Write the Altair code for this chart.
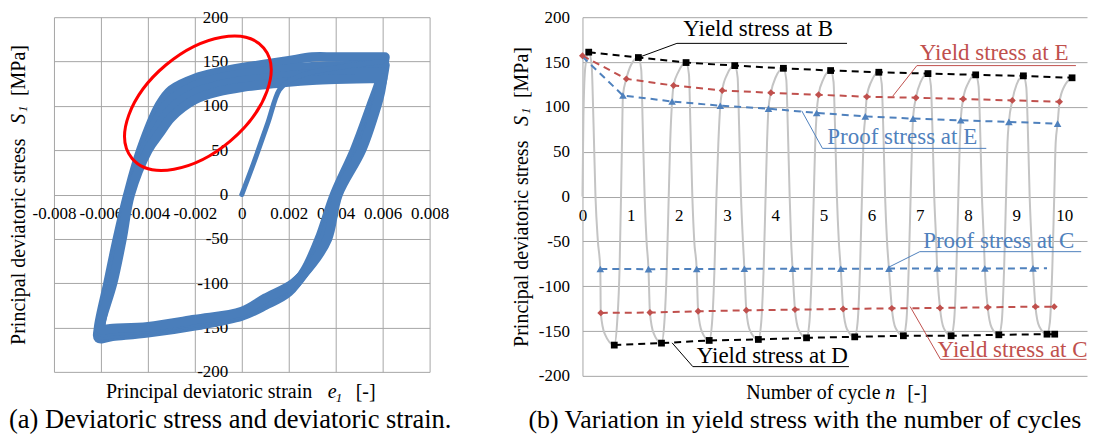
import altair as alt
import pandas as pd

FONT = "Liberation Serif"
BLUE = "#4A7EBB"
RED = "#C0504D"
PBLUE = "#4F81BD"
GRID = "#A6A6A6"

# ---------------- panel (a): hysteresis loops (strain e1, stress S1) ----------------
c1_e = [0.0061, 0.0059, 0.0055, 0.0048, 0.00395, 0.0033, 0.0027, 0.0020, 0.0010, 0.0, -0.0020, -0.0040, -0.0055, -0.0061,
        -0.0061, -0.0057, -0.0053, -0.00485, -0.0043, -0.0035, -0.0030, -0.0020, -0.0010, 0.0, 0.0010, 0.0020, 0.0030, 0.0040, 0.0060, 0.0061]
c1_s = [155, 130, 100, 50, 0, -50, -85, -110, -125, -137, -148, -156, -160, -162,
        -150, -100, -50, 0, 50, 101, 118, 131, 138, 143, 147, 151, 155, 155, 155, 155]
c3_e = [0.0061, 0.00595, 0.0056, 0.0049, 0.0040, 0.0034, 0.0028, 0.0021, 0.0010, 0.0, -0.0020, -0.0040, -0.0055, -0.00605,
        -0.00605, -0.00565, -0.00525, -0.00482, -0.0042, -0.0035, -0.0030, -0.0020, -0.0010, 0.0, 0.0010, 0.0020, 0.0030, 0.0040, 0.0060, 0.0061]
c3_s = [146, 125, 100, 50, 0, -50, -83, -106, -122, -135, -145, -153, -157, -158,
        -148, -100, -50, 0, 50, 90, 107, 123, 131, 136, 139, 142, 144, 145, 146, 146]
c6_e = [0.0060, 0.0059, 0.0057, 0.0050, 0.00405, 0.0035, 0.0029, 0.0021, 0.0010, 0.0, -0.0020, -0.0040, -0.0055, -0.0060,
        -0.0060, -0.0056, -0.0052, -0.00478, -0.0041, -0.0035, -0.0030, -0.0020, -0.0010, 0.0, 0.0010, 0.0020, 0.0030, 0.0040, 0.0060, 0.0060]
c6_s = [138, 120, 100, 50, 0, -50, -80, -103, -120, -134, -143, -151, -154, -155,
        -146, -100, -50, 0, 50, 79, 97, 115, 123, 128, 131, 134, 136, 137, 138, 138]
c10_e = [0.0060, 0.0059, 0.00575, 0.0051, 0.0041, 0.00365, 0.0030, 0.0022, 0.0010, 0.0, -0.0020, -0.0040, -0.0055, -0.0060,
         -0.0060, -0.0055, -0.0051, -0.00475, -0.0040, -0.0035, -0.0030, -0.0020, -0.0010, 0.0, 0.0010, 0.0020, 0.0030, 0.0040, 0.0060, 0.0060]
c10_s = [131, 115, 100, 50, 0, -50, -78, -100, -117, -132, -141, -149, -151, -152,
         -145, -100, -50, 0, 50, 69, 87, 107, 116, 121, 124, 127, 129, 130, 131, 131]
init_e = [0.0, 0.0005, 0.0011, 0.0016, 0.0020, 0.0030, 0.0045, 0.0060]
init_s = [0, 35, 80, 118, 128, 138, 145, 150]
ring_e = [-0.00187]
ring_s = [103]
ea_ticks = [-0.008, -0.006, -0.004, -0.002, 0.0, 0.002, 0.004, 0.006, 0.008]
s_ticks = [-200, -150, -100, -50, 0, 50, 100, 150, 200]

# ---------------- panel (b): yield stress vs cycle number ----------------
gray_n = [0.00, 0.02, 0.06, 0.13,
          0.19, 0.23, 0.27, 0.32, 0.37, 0.38, 0.46, 0.66,
          0.72, 0.77, 0.80, 0.82, 0.84, 0.91, 1.01, 1.16,
          1.22, 1.25, 1.29, 1.33, 1.37, 1.40, 1.48, 1.64,
          1.70, 1.75, 1.79, 1.82, 1.86, 1.89, 1.99, 2.15,
          2.21, 2.24, 2.28, 2.32, 2.37, 2.40, 2.48, 2.63,
          2.69, 2.74, 2.78, 2.82, 2.86, 2.90, 3.00, 3.16,
          3.22, 3.25, 3.29, 3.33, 3.36, 3.40, 3.48, 3.65,
          3.71, 3.76, 3.80, 3.83, 3.86, 3.91, 4.01, 4.17,
          4.23, 4.26, 4.30, 4.33, 4.36, 4.41, 4.49, 4.65,
          4.71, 4.76, 4.80, 4.83, 4.86, 4.90, 5.00, 5.15,
          5.21, 5.24, 5.28, 5.32, 5.36, 5.41, 5.49, 5.65,
          5.71, 5.76, 5.80, 5.83, 5.87, 5.90, 6.00, 6.15,
          6.21, 6.24, 6.28, 6.32, 6.36, 6.42, 6.50, 6.66,
          6.72, 6.77, 6.81, 6.84, 6.86, 6.92, 7.02, 7.17,
          7.23, 7.26, 7.30, 7.34, 7.36, 7.42, 7.50, 7.65,
          7.71, 7.76, 7.80, 7.83, 7.85, 7.90, 8.00, 8.16,
          8.22, 8.25, 8.29, 8.33, 8.35, 8.41, 8.49, 8.64,
          8.70, 8.75, 8.79, 8.82, 8.85, 8.92, 9.01, 9.15,
          9.21, 9.24, 9.28, 9.32, 9.35, 9.40, 9.48, 9.64,
          9.70, 9.75, 9.79, 9.82, 9.86, 9.90, 10.00, 10.16]
gray_s = [0, 90, 145, 161,
          147, 80, 0, -50, -80.8, -129.8, -153, -165.7,
          -140, -80, 0, 60, 112.7, 131.2, 147, 155,
          141, 80, 0, -50, -81, -129.4, -153, -163.5,
          -140, -80, 0, 60, 106, 123.8, 139, 149.4,
          136, 80, 0, -50, -80.8, -128, -151, -160.5,
          -140, -80, 0, 60, 101.3, 118.3, 136, 146,
          133, 80, 0, -50, -80.6, -126.9, -150, -159.4,
          -140, -80, 0, 60, 98, 115.7, 133, 143,
          130, 80, 0, -50, -80.6, -126.1, -149, -157.6,
          -140, -80, 0, 60, 93.2, 113.5, 131, 140.5,
          128, 80, 0, -50, -80.5, -125.4, -148, -156.5,
          -140, -80, 0, 60, 89.4, 111.3, 129, 138.6,
          126, 80, 0, -50, -80.4, -124.7, -147, -155.3,
          -140, -80, 0, 60, 86.9, 110.2, 128, 137.1,
          124, 80, 0, -50, -80.3, -124.3, -147, -155.3,
          -140, -80, 0, 60, 85, 108.7, 126, 135.7,
          123, 80, 0, -50, -80.2, -123.6, -146, -154.2,
          -140, -80, 0, 60, 83.2, 107.2, 125, 134.6,
          122, 80, 0, -50, -80.1, -122.8, -145, -153.5,
          -140, -80, 0, 60, 81.3, 105.7, 123, 132.4]
B_n = [0.13, 1.16, 2.15, 3.16, 4.17, 5.15, 6.15, 7.17, 8.16, 9.15, 10.16]
B_s = [161, 155, 149.4, 146, 143, 140.5, 138.6, 137.1, 135.7, 134.6, 132.4]
Ey_n = [0.0, 0.91, 1.89, 2.90, 3.91, 4.90, 5.90, 6.92, 7.90, 8.92, 9.90]
Ey_s = [157, 131.2, 123.8, 118.3, 115.7, 113.5, 111.3, 110.2, 108.7, 107.2, 105.7]
Ep_n = [0.0, 0.84, 1.86, 2.86, 3.86, 4.86, 5.87, 6.86, 7.85, 8.85, 9.86]
Ep_s = [156, 112.7, 106, 101.3, 98, 93.2, 89.4, 86.9, 85, 83.2, 81.3]
Cp_n = [0.37, 1.37, 2.37, 3.36, 4.36, 5.36, 6.36, 7.36, 8.35, 9.35]
Cp_s = [-80.8, -81, -80.8, -80.6, -80.6, -80.5, -80.4, -80.3, -80.2, -80.1]
Cp_end_n = [9.64]
Cp_end_s = [-80.1]
Cy_n = [0.38, 1.40, 2.40, 3.40, 4.41, 5.41, 6.42, 7.42, 8.41, 9.40, 9.79]
Cy_s = [-129.8, -129.4, -128, -126.9, -126.1, -125.4, -124.7, -124.3, -123.6, -122.8, -122.8]
D_n = [0.66, 1.64, 2.63, 3.65, 4.65, 5.65, 6.66, 7.65, 8.64, 9.64, 9.80]
D_s = [-165.7, -163.5, -160.5, -159.4, -157.6, -156.5, -155.3, -155.3, -154.2, -153.5, -153.5]
n_ticks = list(range(0, 11))

ann_text = ["Yield stress at B", "Yield stress at E", "Proof stress at E",
            "Proof stress at C", "Yield stress at C", "Yield stress at D"]
ann_col = ["black", RED, PBLUE, PBLUE, RED, "black"]
ann_n = [2.09, 7.0, 5.08, 7.07, 7.37, 2.37]
ann_s = [186.7, 160, 66, -49.2, -171.3, -178]
ul_n1 = [1.96, 6.94, 4.98, 7.0, 7.43, 2.29]
ul_n2 = [5.49, 10.24, 8.38, 10.35, 10.46, 5.53]
ul_s = [170.8, 146, 53.7, -61.5, -181.6, -189.7]
ld_n2 = [1.16, 6.44, 4.55, 6.36, 6.80, 1.86]
ld_s2 = [155, 112, 95.6, -78.7, -122.8, -163.2]

# ---------------- layout constants ----------------
W1, H1 = 376, 355
W2, H2 = 505, 359
TITLE = 20


def piece(text, px, py, size=TITLE, style="normal", angle=0, align="left",
          baseline="alphabetic", color="black"):
    return alt.Chart(pd.DataFrame({"t": [text]})).mark_text(
        font=FONT, fontSize=size, fontStyle=style, angle=angle, align=align,
        baseline=baseline, color=color
    ).encode(x=alt.value(px), y=alt.value(py), text="t:N")


minus_int = "datum.value < 0 ? '-' + abs(datum.value) : '' + datum.value"

# ---------- panel (a) ----------
xa = alt.X("e:Q", scale=alt.Scale(domain=[-0.008, 0.008], nice=False, zero=False),
           axis=alt.Axis(values=ea_ticks, grid=True, gridColor=GRID, gridWidth=1, domain=False,
                         ticks=False, labelPadding=11, offset=-H1 / 2, labelFlush=False,
                         labelOverlap=False, labelFont=FONT, labelFontSize=17, labelColor="black",
                         labelExpr="datum.value == 0 ? '0' : (datum.value < 0 ? '-' : '') + format(abs(datum.value), '.3f')",
                         title=None))
ya = alt.Y("s:Q", scale=alt.Scale(domain=[-200, 200], nice=False, zero=False),
           axis=alt.Axis(values=s_ticks, grid=True, gridColor=GRID, gridWidth=1, domain=False,
                         ticks=False, labelPadding=14, offset=-W1 / 2, labelFlush=False,
                         labelOverlap=False, labelFont=FONT, labelFontSize=17, labelColor="black",
                         labelExpr=minus_int, title=None))

loops = []
for name, xs, ys in [("c1", c1_e, c1_s), ("c3", c3_e, c3_s), ("c6", c6_e, c6_s), ("c10", c10_e, c10_s)]:
    loops.append(pd.DataFrame({"e": xs + [xs[0]], "s": ys + [ys[0]], "loop": name,
                               "o": list(range(len(xs) + 1))}))
loop_df = pd.concat(loops, ignore_index=True)

loop_layer = alt.Chart(loop_df).mark_line(color=BLUE, strokeWidth=9.5, strokeJoin="round",
                                         strokeCap="round", interpolate="catmull-rom").encode(
    x=xa, y=ya, detail="loop:N", order="o:Q")
init_layer = alt.Chart(pd.DataFrame({"e": init_e, "s": init_s, "o": range(len(init_e))})).mark_line(
    color=BLUE, strokeWidth=5, strokeCap="round", interpolate="catmull-rom").encode(
    x=xa, y=ya, order="o:Q")

ELLIPSE = ("M1,0 C1,0.32 0.55,0.58 0,0.58 C-0.55,0.58 -1,0.32 -1,0 "
           "C-1,-0.32 -0.55,-0.58 0,-0.58 C0.55,-0.58 1,-0.32 1,0 Z")
ring_layer = alt.Chart(pd.DataFrame({"e": ring_e, "s": ring_s})).mark_point(
    shape=ELLIPSE, size=29584, angle=320, filled=False, stroke="#FF0000", strokeWidth=3,
    opacity=1).encode(x=xa, y=ya)

left = alt.layer(
    loop_layer, init_layer, ring_layer,
    piece("Principal deviatoric stress", -35, 328, angle=270, baseline="middle"),
    piece("S", -35, 107, style="italic", angle=270, baseline="middle"),
    piece("1", -31, 95, size=13, style="italic", angle=270, baseline="middle"),
    piece("[MPa]", -35, 79, angle=270, baseline="middle"),
    piece("Principal deviatoric strain", 52, 381),
    piece("e", 274, 381, style="italic"),
    piece("1", 282, 385, size=13, style="italic"),
    piece("[-]", 302, 381),
    piece("(a) Deviatoric stress and deviatoric strain.", -45, 411, size=26.5),
).properties(width=W1, height=H1)

# ---------- panel (b) ----------
xb = alt.X("n:Q", scale=alt.Scale(domain=[0, 10.47], nice=False, zero=False),
           axis=alt.Axis(values=n_ticks, grid=False, domain=False, ticks=False, labelPadding=11,
                         offset=-H2 / 2, labelFlush=False, labelOverlap=False, labelFont=FONT,
                         labelFontSize=17, labelColor="black", title=None))
yb = alt.Y("s:Q", scale=alt.Scale(domain=[-200, 200], nice=False, zero=False),
           axis=alt.Axis(values=s_ticks, grid=True, gridColor=GRID, gridWidth=1, domain=True,
                         domainColor=GRID, domainWidth=1, ticks=False, labelPadding=13,
                         labelFlush=False, labelOverlap=False, labelFont=FONT, labelFontSize=17,
                         labelColor="black", labelExpr=minus_int, title=None))

gray_layer = alt.Chart(pd.DataFrame({"n": gray_n, "s": gray_s})).mark_line(
    color="#C4C4C4", strokeWidth=2, interpolate="monotone").encode(x=xb, y=yb)


def dashed(xs, ys, color):
    return alt.Chart(pd.DataFrame({"n": xs, "s": ys})).mark_line(
        color=color, strokeWidth=2, strokeDash=[7, 5]).encode(x=xb, y=yb)


def markers(xs, ys, color, shape, size):
    return alt.Chart(pd.DataFrame({"n": xs, "s": ys})).mark_point(
        color=color, filled=True, opacity=1, shape=shape, size=size).encode(x=xb, y=yb)


ann_df = pd.DataFrame({"n": ann_n, "s": ann_s, "label": ann_text, "col": ann_col})
ul_df = pd.DataFrame({"n": ul_n1, "n2": ul_n2, "s": ul_s, "col": ann_col})
ld_df = pd.DataFrame({"n": ul_n1, "s": ul_s, "n2": ld_n2, "s2": ld_s2, "col": ann_col})

ul_layer = alt.Chart(ul_df).mark_rule(strokeWidth=1).encode(
    x=xb, x2="n2:Q", y=yb, color=alt.Color("col:N", scale=None))
ld_layer = alt.Chart(ld_df).mark_rule(strokeWidth=1).encode(
    x=xb, y=yb, x2="n2:Q", y2="s2:Q", color=alt.Color("col:N", scale=None))
ann_layer = alt.Chart(ann_df).mark_text(font=FONT, fontSize=23, align="left",
                                        baseline="middle").encode(
    x=xb, y=yb, text="label:N", color=alt.Color("col:N", scale=None))

right = alt.layer(
    gray_layer,
    dashed(B_n, B_s, "black"),
    dashed(Ey_n, Ey_s, RED),
    dashed(Ep_n, Ep_s, PBLUE),
    dashed(Cp_n + Cp_end_n, Cp_s + Cp_end_s, PBLUE),
    dashed(Cy_n, Cy_s, RED),
    dashed(D_n, D_s, "black"),
    markers(B_n, B_s, "black", "square", 46),
    markers(Ey_n, Ey_s, RED, "diamond", 48),
    markers(Ep_n[1:], Ep_s[1:], PBLUE, "triangle-up", 58),
    markers(Cp_n, Cp_s, PBLUE, "triangle-up", 58),
    markers(Cy_n, Cy_s, RED, "diamond", 48),
    markers(D_n, D_s, "black", "square", 46),
    ul_layer, ld_layer, ann_layer,
    piece("Principal deviatoric stress", -61, 330, angle=270, baseline="middle"),
    piece("S", -61, 109, style="italic", angle=270, baseline="middle"),
    piece("1", -57, 97, size=13, style="italic", angle=270, baseline="middle"),
    piece("[MPa]", -61, 81, angle=270, baseline="middle"),
    piece("Number  of cycle", 164, 382),
    piece("n", 303, 382, style="italic"),
    piece("[-]", 325, 382),
    piece("(b) Variation in yield stress with the number of cycles", -54, 411, size=25.8),
).properties(width=W2, height=H2)

chart = alt.hconcat(left, right, spacing=153, bounds="flush").properties(
    padding={"left": 0, "top": 0, "right": 0, "bottom": 0}
).configure_view(stroke=None)

chart.save("out.html", embed_options={"renderer": "svg", "actions": False})
